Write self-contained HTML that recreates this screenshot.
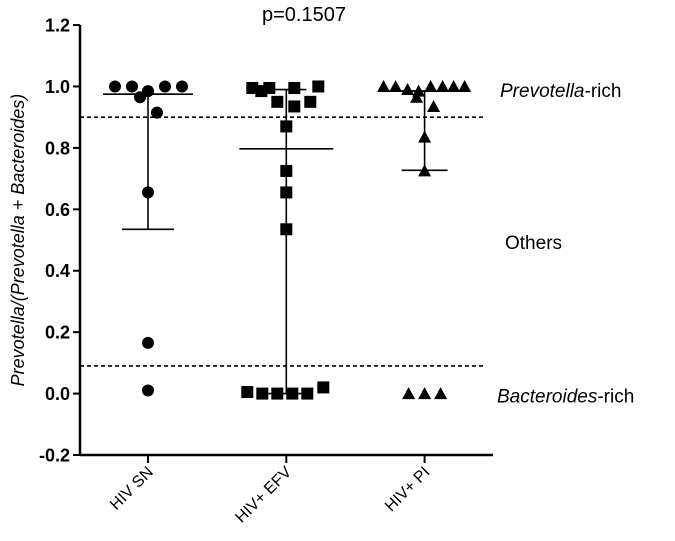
<!DOCTYPE html>
<html><head><meta charset="utf-8"><style>
body{margin:0;background:#fff}
svg{display:block;font-family:"Liberation Sans",Arial,sans-serif}
</style></head><body>
<svg id="chart" width="675" height="541" viewBox="0 0 675 541"></svg>
<script>
const categories = ["HIV SN","HIV+ EFV","HIV+ PI"];
const yTicks = [-0.2,0,0.2,0.4,0.6,0.8,1.0,1.2];
const yTickLabels = ["-0.2","0.0","0.2","0.4","0.6","0.8","1.0","1.2"];
const snValues = [1.0,1.0,0.985,1.0,1.0,0.965,0.915,0.655,0.165,0.01];
const snOffsets = [-33,-16,0,17,34,-8,9,0,0,0];
const efvValues = [0.995,0.985,0.995,0.995,1.0,0.95,0.935,0.95,0.87,0.725,0.655,0.535,0.005,0,0,0,0,0.02];
const efvOffsets = [-34,-25,-17,8,32,-9,8,24,0,0,0,0,-39,-24,-9,6,21,37];
const piValues = [1.0,1.0,0.99,0.985,1.0,1.0,1.0,1.0,0.965,0.935,0.835,0.725,0,0,0];
const piOffsets = [-41,-29,-17,-6,6,18,29,40,-8,9,0,0,-16,0,16];
const centerValues = [0.975,0.797,0.985];
const lowerValues = [0.535,0,0.727];
const upperValues = [0.975,0.99,0.985];
const thresholds = [0.9,0.09];

const NS="http://www.w3.org/2000/svg";
const svg=document.getElementById('chart');
const X0=80,X1=493,Y0=455;
const yScale=v=>Y0-(v+0.2)*307.1;
const xScale=i=>148+i*138.3;
function mk(tag,attrs,parent){const e=document.createElementNS(NS,tag);for(const k in attrs)e.setAttribute(k,attrs[k]);(parent||svg).appendChild(e);return e;}

let ya=mk('line',{x1:X0,y1:yScale(1.2),x2:X0,y2:Y0,stroke:'#000','stroke-width':2.5});


let xa=mk('line',{x1:X0,y1:Y0,x2:X1,y2:Y0,stroke:'#000','stroke-width':2.5});


yTicks.forEach((v,i)=>{
  const y=yScale(v);
  let t=mk('line',{x1:X0-7,y1:y,x2:X0,y2:y,stroke:'#000','stroke-width':2});
  
  
  let l=mk('text',{x:X0-10,y:y+6.5,'text-anchor':'end','font-size':18,'font-weight':'bold'});
  l.textContent=yTickLabels[i];
  
  
});
categories.forEach((c,i)=>{
  const x=xScale(i);
  let t=mk('line',{x1:x,y1:Y0,x2:x,y2:Y0+8,stroke:'#000','stroke-width':2});
  
  
  let l=mk('text',{x:x+6,y:Y0+18,'text-anchor':'end','font-size':16,transform:`rotate(-45 ${x+6} ${Y0+18})`});
  l.textContent=c;
  
  
});
let yt=mk('text',{x:0,y:0,'text-anchor':'middle','font-size':18,'font-style':'italic',transform:`translate(24 ${yScale(0.5)}) rotate(-90)`});
yt.textContent='Prevotella/(Prevotella + Bacteroides)';


let tt=mk('text',{x:304,y:21,'text-anchor':'middle','font-size':20});
tt.textContent='p=0.1507';


thresholds.forEach(v=>{
  let d=mk('line',{x1:X0,y1:yScale(v),x2:485,y2:yScale(v),stroke:'#000','stroke-width':1.6,'stroke-dasharray':'4 3'});
  
  
});
function rt(x,y,italic,rest,name){
  const t=mk('text',{x:x,y:y,'font-size':19});
  
  
  if(italic){const s=mk('tspan',{'font-style':'italic'},t);s.textContent=italic;}
  const s2=mk('tspan',{},t);s2.textContent=rest;
}
rt(500,yScale(0.985)+6,'Prevotella','-rich','prevotella-rich-label');
rt(505,yScale(0.49)+6,'','Others','others-label');
rt(497,yScale(-0.01)+6,'Bacteroides','-rich','bacteroides-rich-label');

const halfW=[45,47,46], capW=[26,20,23];
categories.forEach((c,i)=>{
  const x=xScale(i);
  let g=mk('g',{stroke:'#000','stroke-width':1.6});
  
  
  mk('line',{x1:x,y1:yScale(upperValues[i]),x2:x,y2:yScale(lowerValues[i])},g);
  mk('line',{x1:x-halfW[i],y1:yScale(centerValues[i]),x2:x+halfW[i],y2:yScale(centerValues[i])},g);
  mk('line',{x1:x-capW[i],y1:yScale(lowerValues[i]),x2:x+capW[i],y2:yScale(lowerValues[i])},g);
  mk('line',{x1:x-capW[i],y1:yScale(upperValues[i]),x2:x+capW[i],y2:yScale(upperValues[i])},g);
});
snValues.forEach((v,k)=>{
  let p=mk('circle',{cx:xScale(0)+snOffsets[k],cy:yScale(v),r:6,fill:'#000'});
  
  
});
efvValues.forEach((v,k)=>{
  const x=xScale(1)+efvOffsets[k],y=yScale(v);
  let p=mk('rect',{x:x-6,y:y-6,width:12,height:12,fill:'#000'});
  
  
});
piValues.forEach((v,k)=>{
  const x=xScale(2)+piOffsets[k],y=yScale(v);
  let p=mk('polygon',{points:`${x},${y-6.5} ${x-6.5},${y+5.5} ${x+6.5},${y+5.5}`,fill:'#000'});
  
  
});
</script>
</body></html>
